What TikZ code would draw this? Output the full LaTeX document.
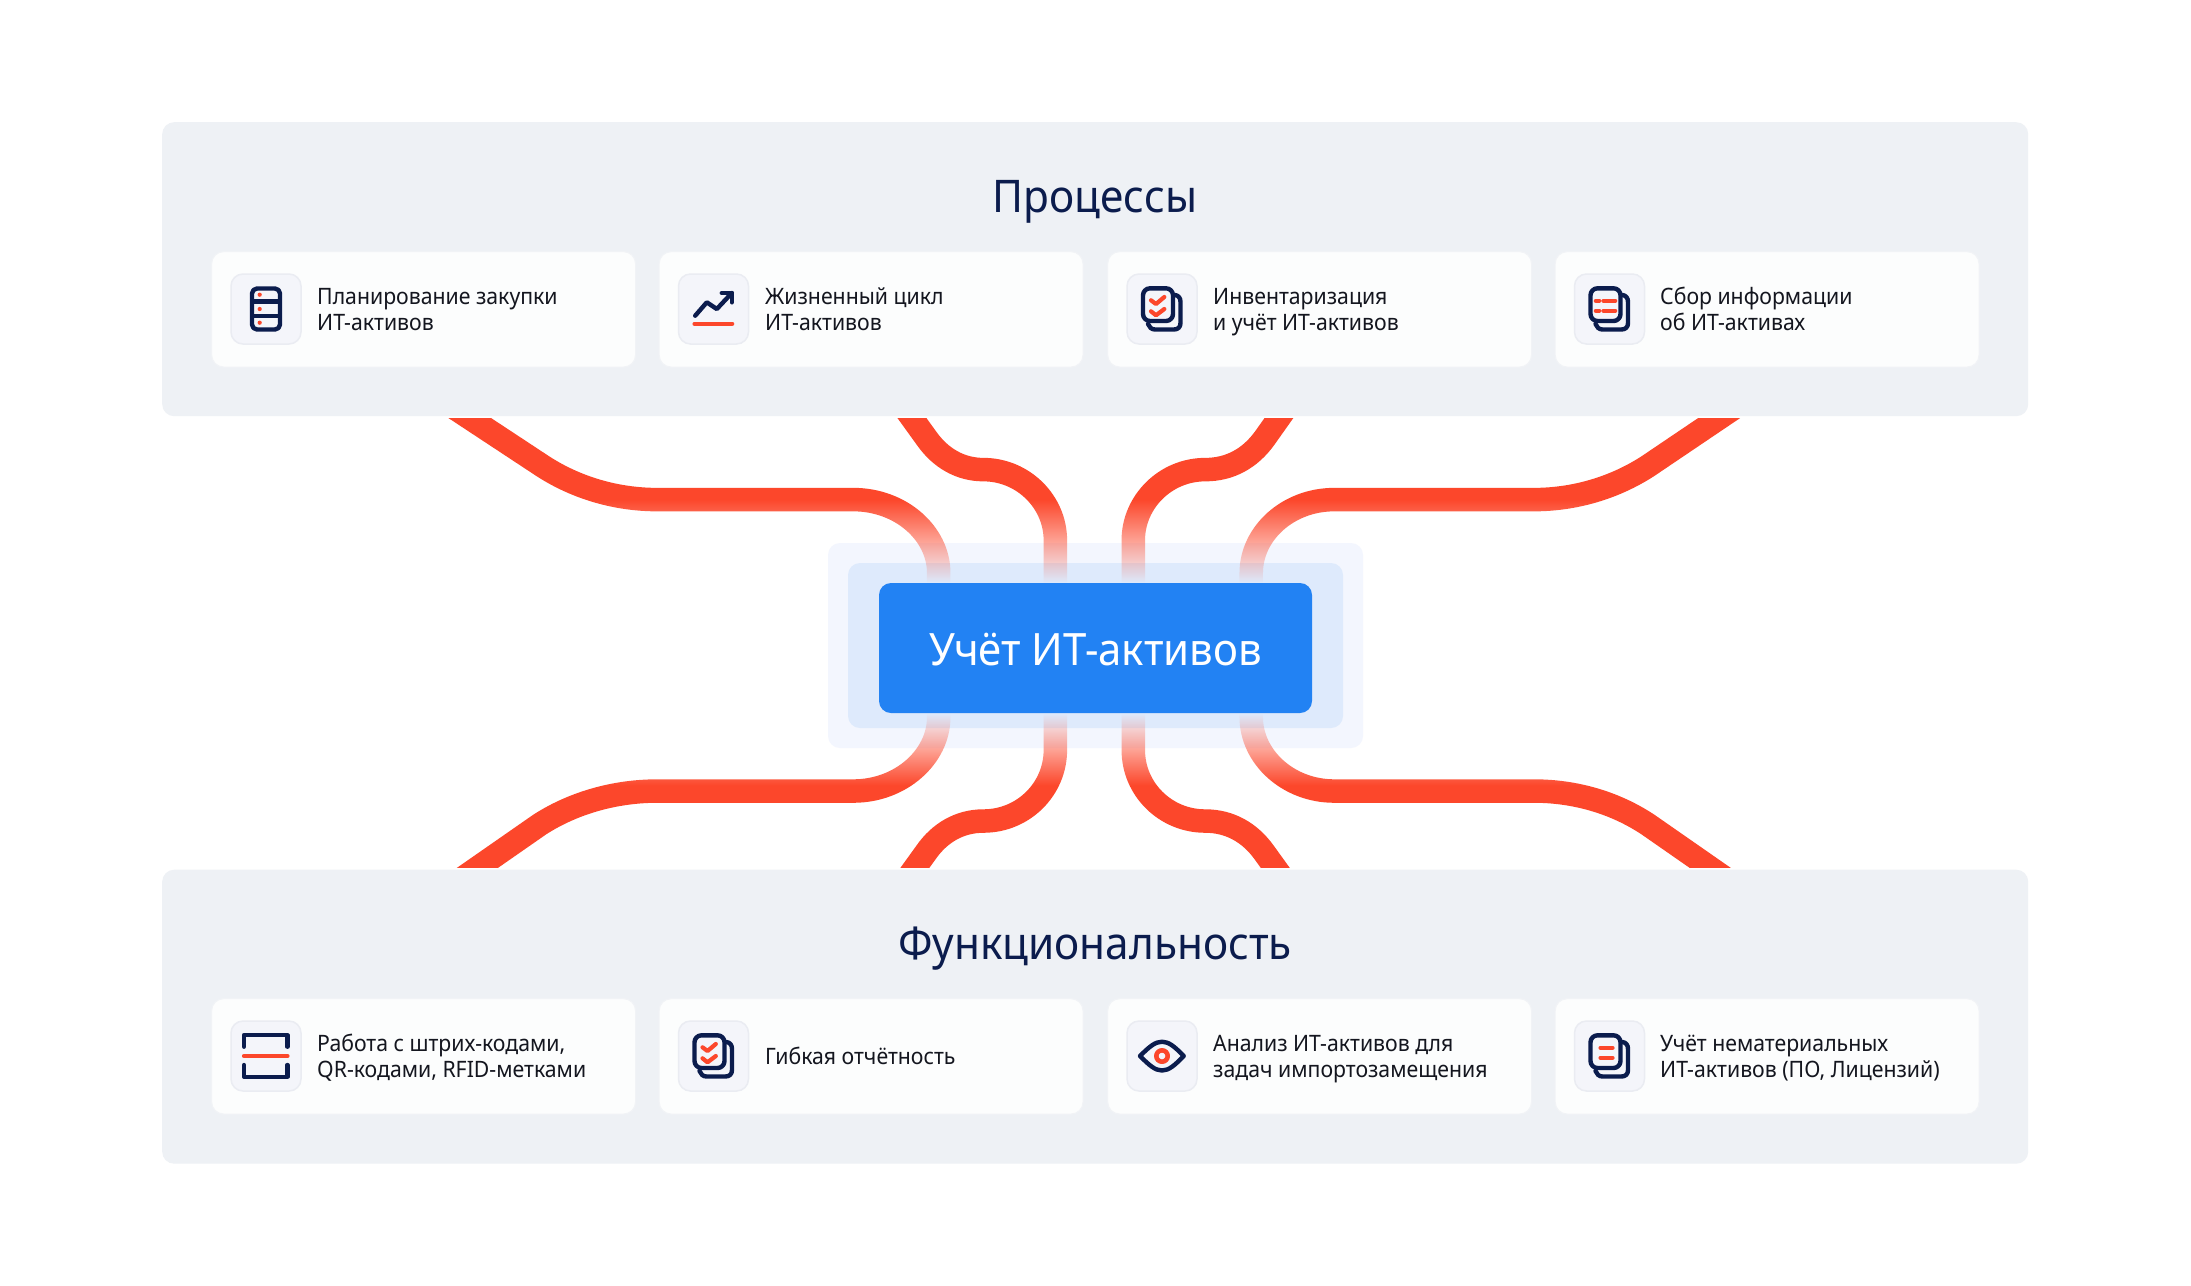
\documentclass[tikz,border=0pt]{standalone}
\usepackage{fontspec}
\setmainfont[FakeStretch=0.94]{Noto Sans}
\usetikzlibrary{fadings}
\definecolor{panelc}{HTML}{EEF1F5}
\definecolor{cardc}{HTML}{FCFDFD}
\definecolor{cardb}{HTML}{F1F3F6}
\definecolor{tilec}{HTML}{F4F5FA}
\definecolor{tileb}{HTML}{EAECF2}
\definecolor{navy}{HTML}{0B1C4D}
\definecolor{redc}{HTML}{FC472B}
\definecolor{bluec}{HTML}{2282F3}
\definecolor{haloa}{HTML}{F3F6FE}
\definecolor{halob}{HTML}{DEEAFC}
\definecolor{inkc}{HTML}{14161F}
\pgfdeclareverticalshading{linkmask}{100bp}{%
  color(0bp)=(pgftransparent!0);
  color(34.13bp)=(pgftransparent!0);
  color(42.15bp)=(pgftransparent!100);
  color(56.63bp)=(pgftransparent!100);
  color(65.87bp)=(pgftransparent!0);
  color(100bp)=(pgftransparent!0)}
\pgfdeclarefading{linkfade}{\pgfuseshading{linkmask}}
\newcommand{\ls}{\rule[-6pt]{0pt}{24pt}}
\tikzset{
  panel/.style={fill=panelc,rounded corners=12pt,anchor=north west,minimum width=1866pt,minimum height=294pt,inner sep=0pt},
  card/.style={fill=cardc,draw=cardb,line width=1.2pt,rounded corners=12pt,anchor=north west,minimum width=424pt,minimum height=115.5pt,inner sep=0pt},
  tile/.style={fill=tilec,draw=tileb,line width=1.5pt,rounded corners=12pt,minimum width=70pt,minimum height=70pt,inner sep=0pt},
  label/.style={anchor=west,align=left,inner sep=0pt,text=inkc,font=\fontsize{22.6}{26}\selectfont},
  title/.style={text=navy,inner sep=0pt,font=\fontsize{45}{54}\selectfont},
  link/.style={draw=redc,line width=23.5pt},
  ink/.style={draw=navy,line width=4.4pt,line cap=round,line join=round},
  accent/.style={draw=redc,line width=4.2pt,line cap=round,line join=round}
}
\newcommand{\stackdoc}{%
  \draw[ink,rounded corners=7pt] (-19,-20.7) rectangle (11,12);
  \draw[ink] (13,-14) .. controls (16.5,-13.5) and (18.5,-11) .. (18.5,-7) -- (18.5,14) .. controls (18.5,18) and (16,20.5) .. (12,20.5) -- (-7,20.5) .. controls (-10.5,20.5) and (-13,18) .. (-14,15);
}
\begin{document}
\begin{tikzpicture}[x=1pt,y=-1pt]
\useasboundingbox (0,0) rectangle (2191,1285);
\fill[white] (0,0) rectangle (2191,1285);

\node[panel] (proc) at (162,122) {};
\node[panel] (func) at (162,869.5) {};
\node[title] (proct) at (1095,202) {Процессы};
\node[title] (funct) at (1095,948.5) {Функциональность};

\node[fill=haloa,rounded corners=12pt,minimum width=535pt,minimum height=205pt,inner sep=0pt] (haloouter) at (1095.5,645.5) {};
\node[fill=halob,rounded corners=12pt,minimum width=495pt,minimum height=165pt,inner sep=0pt] (haloinner) at (1095.5,645.5) {};

% free ends of the connectors
\coordinate (pa) at (440,397.5);
\coordinate (pb) at (902,402);
\coordinate (pc) at (1292,402);
\coordinate (pd) at (1753,396.5);
\coordinate (fa) at (449,888.5);
\coordinate (fb) at (905.5,883);
\coordinate (fc) at (1288,883);
\coordinate (fd) at (1742,888.5);
\coordinate (hta) at (940.3,590);
\coordinate (htb) at (1057,590);
\coordinate (htc) at (1135,590);
\coordinate (htd) at (1253,590);
\coordinate (hba) at (940.3,700);
\coordinate (hbb) at (1057,700);
\coordinate (hbc) at (1135,700);
\coordinate (hbd) at (1253,700);

\begin{scope}
  \clip (0,418) rectangle (2191,867);
  \path[scope fading=linkfade] (0,418) rectangle (2191,867);
  \draw[link] (pa) -- (544,466) .. controls (578,488) and (618,499.5) .. (658.6,499.5) -- (855,499.5) .. controls (902,499.5) and (940.3,533) .. (940.3,573) -- (hta);
  \draw[link] (pb) -- (928,438) .. controls (942,458) and (962,469.5) .. (985,469.5) .. controls (1025,469.5) and (1057,502) .. (1057,540) -- (htb);
  \draw[link] (pc) -- (1266.5,438) .. controls (1252,458) and (1232,469.5) .. (1207,469.5) .. controls (1167,469.5) and (1135,502) .. (1135,540) -- (htc);
  \draw[link] (pd) -- (1650,466) .. controls (1616,488) and (1576,499.5) .. (1536,499.5) -- (1336,499.5) .. controls (1290,499.5) and (1253,533) .. (1253,573) -- (htd);
  \draw[link] (fa) -- (541,824.5) .. controls (576,802) and (618,791) .. (658.6,791) -- (855,791) .. controls (902,791) and (940.3,757) .. (940.3,717) -- (hba);
  \draw[link] (fb) -- (927.5,852.5) .. controls (941,833) and (961,821) .. (985,821) .. controls (1025,821) and (1057,789) .. (1057,750) -- (hbb);
  \draw[link] (fc) -- (1266,852.5) .. controls (1252,833) and (1232,821) .. (1207,821) .. controls (1167,821) and (1135,789) .. (1135,750) -- (hbc);
  \draw[link] (fd) -- (1650,824.5) .. controls (1616,802) and (1576,791) .. (1536,791) -- (1336,791) .. controls (1290,791) and (1253,757) .. (1253,717) -- (hbd);
\end{scope}

\node[fill=bluec,rounded corners=12pt,minimum width=433pt,minimum height=130pt,inner sep=0pt] (hub) at (1095.5,648) {};
\node[text=white,inner sep=0pt,font=\fontsize{44.6}{50}\selectfont] (hubt) at (1095.5,650) {Учёт ИТ-активов};

% top row
\node[card] (c1) at (211,251) {};
\node[card] (c2) at (658.5,251) {};
\node[card] (c3) at (1107,251) {};
\node[card] (c4) at (1554.5,251) {};
\node[tile] (t1) at (266,309) {};
\node[tile] (t2) at (713.5,309) {};
\node[tile] (t3) at (1162,309) {};
\node[tile] (t4) at (1609.5,309) {};
\node[label] (l1) at (317,311.4) {\ls Планирование закупки\\\ls ИТ-активов};
\node[label] (l2) at (765,311.4) {\ls Жизненный цикл\\\ls ИТ-активов};
\node[label] (l3) at (1213,311.4) {\ls Инвентаризация\\\ls и учёт ИТ-активов};
\node[label] (l4) at (1660,311.4) {\ls Сбор информации\\\ls об ИТ-активах};

% bottom row
\node[card] (d1) at (211,998) {};
\node[card] (d2) at (658.5,998) {};
\node[card] (d3) at (1107,998) {};
\node[card] (d4) at (1554.5,998) {};
\node[tile] (u1) at (266,1056) {};
\node[tile] (u2) at (713.5,1056) {};
\node[tile] (u3) at (1162,1056) {};
\node[tile] (u4) at (1609.5,1056) {};
\node[label] (m1) at (317,1058.4) {\ls Работа с штрих-кодами,\\\ls QR-кодами, RFID-метками};
\node[label] (m2) at (765,1058) {\ls Гибкая отчётность};
\node[label] (m3) at (1213,1058.4) {\ls Анализ ИТ-активов для\\\ls задач импортозамещения};
\node[label] (m4) at (1660,1058.4) {\ls Учёт нематериальных\\\ls ИТ-активов (ПО, Лицензий)};

% server icon
\begin{scope}[shift={(t1.center)}]
  \draw[ink,rounded corners=5pt] (-14,-20.5) rectangle (14,20.5);
  \draw[ink,line cap=butt] (-14,-7.7) -- (14,-7.7) (-14,6.7) -- (14,6.7);
  \fill[redc] (-6.3,-14.3) circle (2.1) (-6.3,0) circle (2.1) (-6.3,13.7) circle (2.1);
\end{scope}
% chart icon
\begin{scope}[shift={(t2.center)}]
  \draw[ink] (-18.3,6.7) -- (-6.7,-6.7) -- (3.3,0) -- (18.3,-16);
  \draw[ink] (8.3,-16) -- (18.3,-16) -- (18.3,-6.7);
  \draw[accent] (-19,14.7) -- (18.7,14.7);
\end{scope}
% checklist icon
\begin{scope}[shift={(t3.center)}]
  \stackdoc
  \draw[accent] (-11,-8.7) -- (-6,-5) -- (2.3,-12);
  \draw[accent] (-11,2.3) -- (-6,6.3) -- (2.3,0);
\end{scope}
% list icon
\begin{scope}[shift={(t4.center)}]
  \stackdoc
  \draw[accent] (-13.7,-8.3) -- (-10.3,-8.3) (-6,-8.3) -- (5.7,-8.3);
  \draw[accent] (-13.7,1.7) -- (-10.3,1.7) (-6,1.7) -- (5.7,1.7);
\end{scope}
% scanner icon
\begin{scope}[shift={(u1.center)}]
  \draw[ink] (-22,-9.3) -- (-22,-21) -- (21.3,-21) -- (21.3,-9.3);
  \draw[ink] (-22,9) -- (-22,20.7) -- (21.3,20.7) -- (21.3,9);
  \draw[accent] (-22,0) -- (21.5,0);
\end{scope}
% checklist icon
\begin{scope}[shift={(u2.center)}]
  \stackdoc
  \draw[accent] (-11,-8.7) -- (-6,-5) -- (2.3,-12);
  \draw[accent] (-11,2.3) -- (-6,6.3) -- (2.3,0);
\end{scope}
% eye icon
\begin{scope}[shift={(u3.center)}]
  \draw[ink] (-22,0) .. controls (-13,-9) and (-7,-14.3) .. (0,-14.3) .. controls (7,-14.3) and (13,-9) .. (21.7,0) .. controls (13,9) and (7,14.5) .. (0,14.5) .. controls (-7,14.5) and (-13,9) .. (-22,0) -- cycle;
  \draw[accent,line width=4.6pt] (0,0) circle (5.7);
\end{scope}
% document icon
\begin{scope}[shift={(u4.center)}]
  \stackdoc
  \draw[accent] (-9,-8.3) -- (3,-8.3);
  \draw[accent] (-9,1.7) -- (3,1.7);
\end{scope}
\end{tikzpicture}
\end{document}
